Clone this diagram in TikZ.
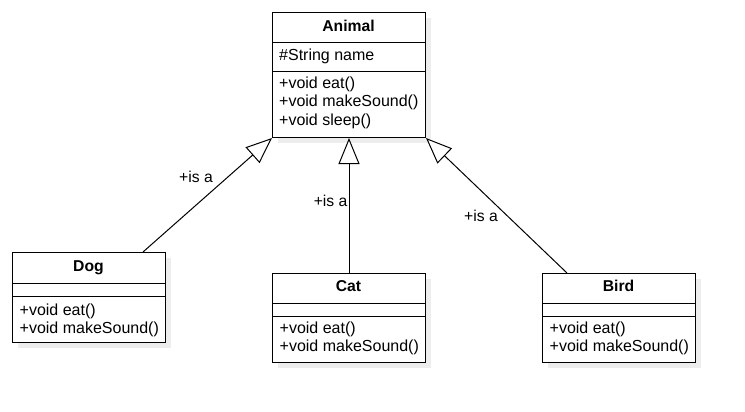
\documentclass[tikz,border=0pt]{standalone}
\usepackage{fontspec}
\setmainfont{Liberation Sans}
\usetikzlibrary{arrows.meta}
\tikzset{
  cls/.style={draw, line width=1pt, fill=white, inner sep=0pt, anchor=north west},
  shd/.style={fill=black!7},
  sep/.style={line width=1pt},
  txt/.style={anchor=west, inner sep=0pt, yshift=-1pt, text height=0.74em, text depth=0.22em, font=\fontsize{16}{18}\selectfont},
  ttl/.style={anchor=center, inner sep=0pt, yshift=-1pt, text height=0.74em, text depth=0.22em, font=\fontsize{15.7}{18}\selectfont\bfseries},
  lbl/.style={anchor=center, inner sep=0pt, yshift=-1pt, text height=0.74em, text depth=0.22em, font=\fontsize{15.7}{18}\selectfont},
  inh/.style={line width=1pt, -{Triangle[open, length=26pt, width=21pt, fill=white]}}
}
\begin{document}
\begin{tikzpicture}[x=1pt, y=-1pt]
\useasboundingbox (0,0) rectangle (745,412);
% shadows
\fill[shd] (278,18) rectangle (431,143);
\fill[shd] (18,258) rectangle (171,348);
\fill[shd] (278,279) rectangle (431,368);
\fill[shd] (548,279) rectangle (701,368);
% Animal
\node[cls, minimum width=153pt, minimum height=125pt] (animal) at (272,12) {};
\draw[sep] (272,43) -- (425,43);
\draw[sep] (272,72) -- (425,72);
\node[ttl] (animalt) at (348.5,27.5) {Animal};
\node[txt] (animala) at (279,57) {\#String name};
\node[txt] (animalm1) at (279,85) {+void eat()};
\node[txt] (animalm2) at (279,103.3) {+void makeSound()};
\node[txt] (animalm3) at (279,121.7) {+void sleep()};
% Dog
\node[cls, minimum width=153pt, minimum height=90pt] (dog) at (12,252) {};
\draw[sep] (12,283) -- (165,283);
\draw[sep] (12,296) -- (165,296);
\node[ttl] (dogt) at (88.5,268) {Dog};
\node[txt] (dogm1) at (19.5,311.7) {+void eat()};
\node[txt] (dogm2) at (19.5,330) {+void makeSound()};
% Cat
\node[cls, minimum width=153pt, minimum height=89pt] (cat) at (272,273) {};
\draw[sep] (272,303.5) -- (425,303.5);
\draw[sep] (272,316) -- (425,316);
\node[ttl] (catt) at (348.5,288) {Cat};
\node[txt] (catm1) at (279.5,329.5) {+void eat()};
\node[txt] (catm2) at (279.5,348) {+void makeSound()};
% Bird
\node[cls, minimum width=153pt, minimum height=89pt] (bird) at (542,273) {};
\draw[sep] (542,303.5) -- (695,303.5);
\draw[sep] (542,316) -- (695,316);
\node[ttl] (birdt) at (618.5,288) {Bird};
\node[txt] (birdm1) at (549.5,329.5) {+void eat()};
\node[txt] (birdm2) at (549.5,348) {+void makeSound()};
% connectors
\coordinate (dogtop) at (143,252);
\coordinate (birdtop) at (567,273);
\draw[inh] (dogtop) -- (animal.south west);
\draw[inh] (cat.north) -- (animal.south);
\draw[inh] (birdtop) -- (animal.south east);
\node[lbl] (l1) at (196,179) {+is a};
\node[lbl] (l2) at (330.6,203) {+is a};
\node[lbl] (l3) at (481,218) {+is a};
\end{tikzpicture}
\end{document}
